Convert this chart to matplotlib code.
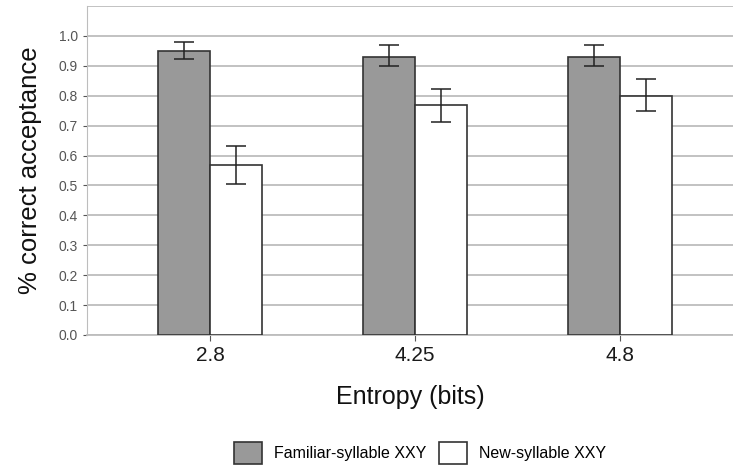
import numpy as np
import matplotlib
matplotlib.use("Agg")
import matplotlib.pyplot as plt
from matplotlib.patches import Patch

plt.rcParams['font.family'] = ['Liberation Sans', 'DejaVu Sans']

entropy = ['2.8', '4.25', '4.8']
familiar = [0.950, 0.931, 0.931]
familiar_lo = [0.923, 0.900, 0.900]
familiar_hi = [0.978, 0.970, 0.970]
new = [0.570, 0.769, 0.800]
new_lo = [0.505, 0.713, 0.750]
new_hi = [0.633, 0.823, 0.855]

fig = plt.figure(figsize=(7.33, 4.70), dpi=100)
ax = fig.add_axes([87/733, 1-335/470, 646/733, 329/470])

x = np.arange(len(entropy))
w = 0.254
fam_err = [np.array(familiar) - np.array(familiar_lo), np.array(familiar_hi) - np.array(familiar)]
new_err = [np.array(new) - np.array(new_lo), np.array(new_hi) - np.array(new)]

ax.bar(x - w/2, familiar, w, color='#999999', edgecolor='#333333', linewidth=1.2, zorder=3)
ax.bar(x + w/2, new, w, color='white', edgecolor='#333333', linewidth=1.2, zorder=3)
ax.errorbar(x - w/2, familiar, yerr=fam_err, fmt='none', ecolor='#222222',
            elinewidth=1.1, capsize=7.5, capthick=1.1, zorder=4)
ax.errorbar(x + w/2, new, yerr=new_err, fmt='none', ecolor='#222222',
            elinewidth=1.1, capsize=7.5, capthick=1.1, zorder=4)

ax.set_xlim(-0.6, 2.551)
ax.set_ylim(0, 1.1)
ax.set_yticks(np.arange(0, 1.01, 0.1))
ax.set_yticklabels(['%.1f' % v for v in np.arange(0, 1.01, 0.1)])
ax.set_yticks([1.1], minor=True)
ax.yaxis.grid(True, which='both', color='#bdbdbd', linewidth=1.3)
ax.set_axisbelow(True)
ax.set_xticks(x)
ax.set_xticklabels(entropy, fontsize=15, color='#1a1a1a')
ax.tick_params(axis='y', labelsize=10, colors='#555555', length=3, width=0.8, which='major')
ax.tick_params(axis='y', which='minor', length=0)
ax.tick_params(axis='x', length=4, color='#555555', pad=4)

for s in ['top', 'right']:
    ax.spines[s].set_visible(False)
ax.spines['left'].set_color('#bdbdbd')
ax.spines['bottom'].set_color('#bdbdbd')
ax.spines['bottom'].set_linewidth(1.3)

ax.set_ylabel('% correct acceptance', fontsize=18.5, color='#111111', labelpad=12)
ax.set_xlabel('Entropy (bits)', fontsize=18, color='#111111', labelpad=14)

handles = [Patch(facecolor='#999999', edgecolor='#333333', linewidth=1.2),
           Patch(facecolor='white', edgecolor='#333333', linewidth=1.2)]
fig.legend(handles, ['Familiar-syllable XXY', 'New-syllable XXY'],
           loc='center', bbox_to_anchor=(420/733, 1-453/470), ncol=2, frameon=False,
           fontsize=11.5, handlelength=1.75, handleheight=1.75, columnspacing=0.75,
           handletextpad=0.75)

fig.savefig('out.png', dpi=100)
